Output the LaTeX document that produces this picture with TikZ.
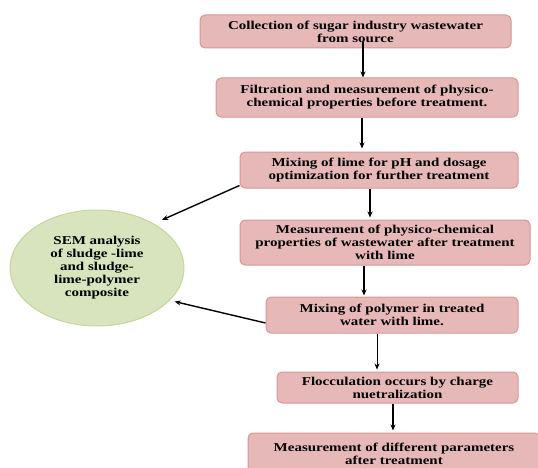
\documentclass[tikz,border=0pt]{standalone}
\usepackage{fontspec}
\setmainfont[FakeStretch=1.25]{Liberation Serif}
\usetikzlibrary{shapes.geometric,arrows.meta}
\definecolor{boxfill}{HTML}{E6B9B8}
\definecolor{boxline}{HTML}{D99694}
\definecolor{semfill}{HTML}{D7E4BD}
\definecolor{semline}{HTML}{C3D69B}

\begin{document}
\begin{tikzpicture}[x=1pt,y=1pt]
              \tikzstyle{every node}+=[inner sep=0pt]
              \tikzstyle{box}=[draw=boxline, fill=boxfill, line width=1pt, rounded corners=5pt, align=center, font=\bfseries\fontsize{12}{13}\selectfont]
              \tikzstyle{sem}=[ellipse, draw=semline, fill=semfill, line width=1pt, font=\bfseries\fontsize{12}{12.8}\selectfont]
              \tikzstyle{arr}=[-{Stealth[length=6pt,width=5pt]}, line width=1.4pt, black]
              \useasboundingbox (0,0) rectangle (538,467);
              % process steps
              \node [box, minimum width=311, minimum height=33] (collect) at (355.5,435.5) {Collection of sugar industry wastewater\\from source};
              \node [box, minimum width=302, minimum height=39] (filter) at (367,369.5) {Filtration and measurement of physico-\\chemical properties before treatment.};
              \node [box, minimum width=278, minimum height=36] (lime) at (379,297) {Mixing of lime for pH and dosage\\optimization for further treatment};
              \node [box, minimum width=290, minimum height=45] (measure) at (385,224.5) {Measurement of physico-chemical\\properties of wastewater after treatment\\with lime};
              \node [box, minimum width=252, minimum height=36] (polymer) at (392,152) {Mixing of polymer in treated\\water with lime.};
              \node [box, minimum width=241, minimum height=31] (floc) at (397.5,79.5) {Flocculation occurs by charge\\nuetralization};
              \node [box, minimum width=292, minimum height=42] (params) at (394,13) {Measurement of different parameters\\after treatment};
              \node [sem, minimum width=174, minimum height=116] (sem) at (97,199) {\raisebox{6pt}{\begin{tabular}{@{}c@{}}SEM analysis\\of sludge -lime\\and sludge-\\lime-polymer\\composite\end{tabular}}};
              % arrows
              \draw [arr, shorten <=-6pt] (collect.south -| 363,0) -- (filter.north -| 363,0);
              \draw [arr, shorten >=3pt] (filter.south -| 362,0) -- (lime.north -| 362,0);
              \draw [arr, shorten >=2pt] (lime.south -| 370,0) -- (measure.north -| 370,0);
              \draw [arr, shorten >=1pt] (measure.south -| 364,0) -- (polymer.north -| 364,0);
              \draw [arr, line width=0.8pt, shorten >=2pt] (polymer.south -| 377,0) -- (floc.north -| 377,0);
              \draw [arr, shorten >=2pt] (floc.south -| 393,0) -- (params.north -| 393,0);
              \draw [arr, shorten >=9pt] ([yshift=3pt]lime.south west) -- (sem.38);
              \draw [arr, shorten >=5pt] ([yshift=-8pt]polymer.west) -- (sem.-24);
            \end{tikzpicture}
\end{document}
